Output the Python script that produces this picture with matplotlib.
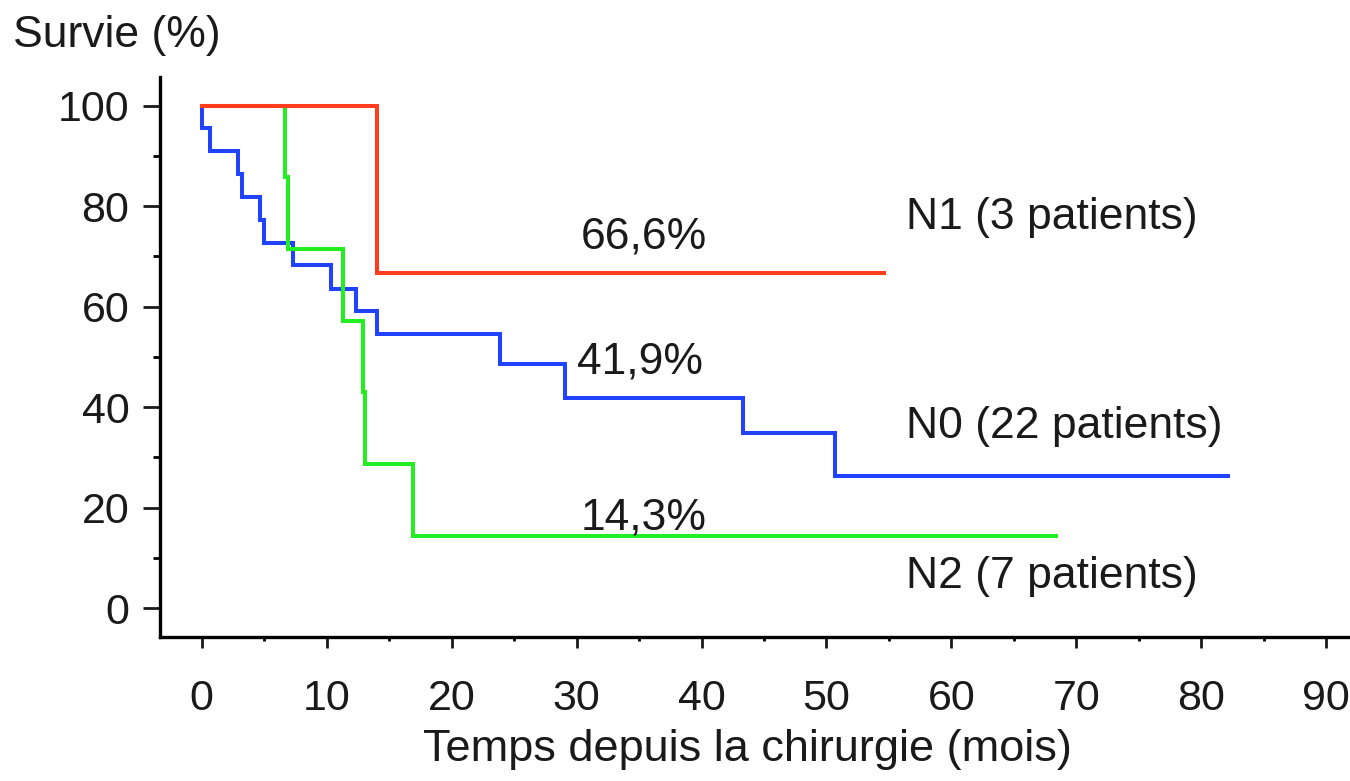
import matplotlib
matplotlib.use("Agg")
import matplotlib.pyplot as plt
from matplotlib.ticker import MultipleLocator

# ---- data (months, survival %) ----
n0_time = [0, 0.66, 2.93, 3.2, 4.66, 4.98, 7.33, 10.35, 12.35, 14.05, 23.9, 29.06, 43.3, 50.7, 82.1]
n0_surv = [95.45, 90.9, 86.4, 81.8, 77.3, 72.7, 68.2, 63.6, 59.1, 54.5, 48.5, 41.9, 34.9, 26.2, 26.2]

n1_time = [0, 14.0, 54.6]
n1_surv = [100, 66.6, 66.6]

n2_time = [0, 6.7, 6.93, 11.3, 12.93, 13.07, 16.93, 68.4]
n2_surv = [100, 85.7, 71.4, 57.1, 42.9, 28.6, 14.3, 14.3]

pct_labels = ["66,6%", "41,9%", "14,3%"]
group_labels = ["N1 (3 patients)", "N0 (22 patients)", "N2 (7 patients)"]
x_ticks = [0, 10, 20, 30, 40, 50, 60, 70, 80, 90]
y_ticks = [0, 20, 40, 60, 80, 100]

plt.rcParams['font.family'] = ['Liberation Sans', 'DejaVu Sans']

W, H = 1350, 781
fig = plt.figure(figsize=(W / 100, H / 100), dpi=100)
ax = fig.add_axes([160 / W, (H - 637) / H, (W - 160) / W, (637 - 77) / H])

blue = "#2142ff"
red = "#ff3c1e"
green = "#22ee22"
lw = 2.9

# N0 starts at 100 before its first drop
ax.step([0] + n0_time, [100] + n0_surv, where='post', color=blue, lw=lw, solid_joinstyle='miter')
ax.step(n2_time, n2_surv, where='post', color=green, lw=lw, solid_joinstyle='miter')
ax.step(n1_time, n1_surv, where='post', color=red, lw=lw, solid_joinstyle='miter')

ax.set_xlim(-3.34, 91.9)
ax.set_ylim(-5.77, 105.7)

for s in ['top', 'right']:
    ax.spines[s].set_visible(False)
for s in ['left', 'bottom']:
    ax.spines[s].set_linewidth(2.4)

ax.set_xticks(x_ticks)
ax.set_yticks(y_ticks)
ax.xaxis.set_minor_locator(MultipleLocator(5))
ax.yaxis.set_minor_locator(MultipleLocator(10))
ax.tick_params(axis='x', which='major', length=8, width=2, pad=22, labelsize=31, colors='#1a1a1a')
ax.tick_params(axis='x', which='minor', length=3, width=2)
ax.tick_params(axis='y', which='major', length=12, width=2, pad=10, labelsize=31, colors='#1a1a1a')
ax.tick_params(axis='y', which='minor', length=5, width=2)

txt_kw = dict(fontsize=32, color='#1a1a1a', ha='left', va='center')
ax.text(30.3, 73.8, pct_labels[0], **txt_kw)
ax.text(30.0, 49.0, pct_labels[1], **txt_kw)
ax.text(30.3, 17.9, pct_labels[2], **txt_kw)
ax.text(56.4, 77.8, group_labels[0], **txt_kw)
ax.text(56.4, 36.2, group_labels[1], **txt_kw)
ax.text(56.4, 6.2, group_labels[2], **txt_kw)

fig.text(13 / W, 1 - 35 / H, "Survie (%)", fontsize=32, color='#1a1a1a', ha='left', va='center')
fig.text(747 / W, 1 - 750 / H, "Temps depuis la chirurgie (mois)", fontsize=32.5, color='#1a1a1a',
         ha='center', va='center')

fig.savefig("out.png", dpi=100)
